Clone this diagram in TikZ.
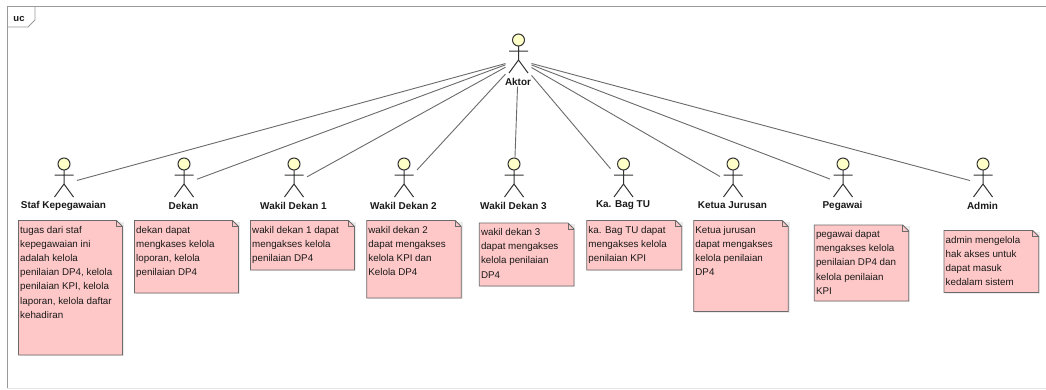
\documentclass[tikz,border=0pt]{standalone}
\usepackage{fontspec}
\setmainfont{Liberation Sans}
\definecolor{notefill}{HTML}{FFC8C8}
\definecolor{headfill}{HTML}{FFFFC8}
\definecolor{edgegrey}{HTML}{6A6A6A}
\definecolor{framegrey}{HTML}{9A9A9A}
\tikzset{
  actorbox/.style={minimum width=26pt,minimum height=53pt,inner sep=0pt,outer sep=0pt},
  stick/.style={draw=black!80,line width=1pt},
  actorhead/.style={draw=black!80,line width=1pt,fill=headfill},
  actorlabel/.style={font=\fontsize{9.95}{12}\selectfont\bfseries,text=black!90,inner sep=0pt},
  assoc/.style={draw=edgegrey,line width=0.9pt},
  framing/.style={draw=framegrey,line width=0.9pt},
  noteshape/.style={draw=edgegrey,line width=0.8pt,fill=notefill},
  noteshadow/.style={fill=black!8,draw=none},
  notetext/.style={font=\fontsize{9.8}{14.2}\selectfont,align=left,anchor=north west,inner sep=0pt,text=black!90}
}
\newcommand{\actorfig}[4]{%
  \node[actorbox] (#1) at (#2,#3) {};
  \begin{scope}[shift={(#2,#3)}]
    \draw[stick] (0,-14) -- (0,0) (-9.5,-9) -- (9.5,-9) (-9.5,13) -- (0,0) -- (9.5,13);
    \draw[actorhead] (0,-20) circle[radius=6];
  \end{scope}
  \node[actorlabel] (#1label) at (#2-0.5,#3+21.5) {#4};
}
\newcommand{\notefig}[6]{%
  \fill[noteshadow] (#2+1.2,#3+1.2) rectangle (#4+1.2,#5+1.2);
  \draw[noteshape] (#2,#3) -- (#4-6,#3) -- (#4,#3+6) -- (#4,#5) -- (#2,#5) -- cycle;
  \draw[noteshape,fill=none] (#4-6,#3) -- (#4-6,#3+6) -- (#4,#3+6);
  \node[notetext] (#1) at (#2+1.5,#3+5.2) {#6};
}
\begin{document}
\begin{tikzpicture}[x=1pt,y=-1pt]
\useasboundingbox[fill=white] (0,0) rectangle (1046,389);
% frame
\draw[framing] (1046,6) -- (7,6) -- (7,389);
\draw[draw=black!10,line width=0.8pt] (7,388) -- (1046,388);
\draw[framing] (7,27) -- (28,27) -- (35,20) -- (35,6);
\node[actorlabel,font=\fontsize{9.5}{12}\selectfont\bfseries] (frametag) at (19,18.5) {uc};
% actors
\actorfig{aktor}{518.5}{60}{Aktor}
\actorfig{staf}{64}{184}{Staf Kepegawaian}
\actorfig{dekan}{184}{184}{Dekan}
\actorfig{wdsatu}{294}{184}{Wakil Dekan 1}
\actorfig{wddua}{404}{184}{Wakil Dekan 2}
\actorfig{wdtiga}{514}{184}{Wakil Dekan 3}
\actorfig{katu}{623.5}{184}{Ka. Bag TU}
\actorfig{kajur}{733}{184}{Ketua Jurusan}
\actorfig{pegawai}{843}{184}{Pegawai}
\actorfig{admin}{983}{184}{Admin}
% associations
\foreach \t in {staf,dekan,wdsatu,wddua,wdtiga,katu,kajur,pegawai,admin}
  \draw[assoc] (aktor) -- (\t);
% notes
\notefig{nstaf}{18.5}{220.5}{122.5}{355}{tugas dari staf\\kepegawaian ini\\adalah kelola\\penilaian DP4, kelola\\penilaian KPI, kelola\\laporan, kelola daftar\\kehadiran}
\notefig{ndekan}{134.5}{220.5}{238.5}{293}{dekan dapat\\mengkases kelola\\loporan, kelola\\penilaian DP4}
\notefig{nwdsatu}{250.5}{220.5}{354.5}{270}{wakil dekan 1 dapat\\mengakses kelola\\penilaian DP4}
\notefig{nwddua}{366.7}{220.5}{461.3}{298}{wakil dekan 2\\dapat mengakses\\kelola KPI dan\\Kelola DP4}
\notefig{nwdtiga}{479.3}{223}{574}{286}{wakil dekan 3\\dapat mengakses\\kelola penilaian\\DP4}
\notefig{nkatu}{586.7}{220.5}{681.7}{270}{ka. Bag TU dapat\\mengakses kelola\\penilaian KPI}
\notefig{nkajur}{693.7}{220.5}{788.3}{311.5}{Ketua jurusan\\dapat mengakses\\kelola penilaian\\DP4}
\notefig{npegawai}{814.3}{225}{908.7}{301}{pegawai dapat\\mengakses kelola\\penilaian DP4 dan\\kelola penilaian\\KPI}
\notefig{nadmin}{944}{230.5}{1038.7}{292.5}{admin mengelola\\hak akses untuk\\dapat masuk\\kedalam sistem}
\end{tikzpicture}
\end{document}
